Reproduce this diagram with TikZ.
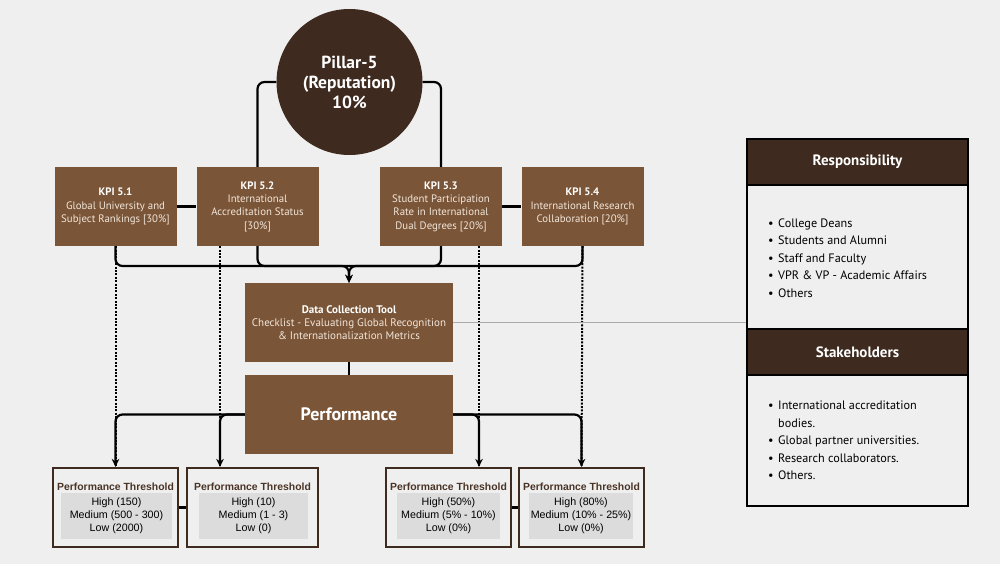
\documentclass[tikz,border=0pt]{standalone}
\usepackage{fontspec}
\setmainfont{PT Sans}
\newfontfamily\arialfont{Liberation Sans}
\usetikzlibrary{arrows.meta}
\definecolor{bgcol}{HTML}{EFEFEF}
\definecolor{darkbrown}{HTML}{3E2A1E}
\definecolor{kpibrown}{HTML}{7A5538}
\definecolor{cream}{HTML}{F2E6DA}
\definecolor{shade}{HTML}{DCDCDC}
\definecolor{linkgray}{HTML}{ABABAB}
\definecolor{thtext}{HTML}{4A3426}
\tikzset{
  pillar/.style  = { circle, fill=darkbrown, text=white, minimum size=146pt, align=center,
                     font=\fontsize{17.5}{20}\selectfont\bfseries },
  kpi/.style     = { fill=kpibrown, text=cream, minimum width=122pt, minimum height=79pt,
                     align=center, inner sep=0pt, font=\fontsize{10.8}{13.3}\selectfont },
  tool/.style    = { fill=kpibrown, text=cream, minimum width=208pt, minimum height=79pt,
                     align=center, inner sep=0pt, font=\fontsize{11}{13}\selectfont },
  thbox/.style   = { draw=darkbrown, line width=2.2pt, fill=bgcol, minimum width=125pt,
                     minimum height=79pt },
  thtitle/.style = { text=thtext, font=\arialfont\fontsize{10.4}{12}\selectfont\bfseries, inner sep=0pt },
  thvals/.style  = { fill=shade, minimum width=109pt, minimum height=46pt, align=center,
                     inner sep=0pt, font=\arialfont\fontsize{10.7}{13}\selectfont },
  head/.style    = { draw=black, line width=2pt, fill=darkbrown, text=white, minimum width=221pt,
                     minimum height=46pt, font=\fontsize{15}{17}\selectfont\bfseries },
  body/.style    = { draw=black, line width=2pt, fill=bgcol, minimum width=221pt },
  list/.style    = { anchor=west, align=left, inner sep=0pt, font=\fontsize{12.2}{17.5}\selectfont },
  line/.style    = { line width=2.2pt, black, rounded corners=7pt },
  arrow/.style   = { line, -{Stealth[length=8pt,width=7.5pt]} },
  dotline/.style = { line width=2pt, black, dash pattern={on 2pt off 1.4pt} },
  link/.style    = { line width=1.6pt, linkgray }
}
\newcommand{\bul}{\makebox[10pt][l]{\textbullet}}

\begin{document}
\begin{tikzpicture}[x=1pt,y=-1pt]
  \fill[bgcol] (0,0) rectangle (1000,564);
  \useasboundingbox (0,0) rectangle (1000,564);
  % Pillar and KPIs
  \node[pillar] (pillar) at (349.5,82) {Pillar-5\\(Reputation)\\10\%};
  \node[kpi] (k1) at (115.5,206.5) {{\bfseries\color{white}KPI 5.1}\\Global University and\\Subject Rankings [30\%]};
  \node[kpi] (k2) at (257.5,206.5) {{\bfseries\color{white}KPI 5.2}\\International\\Accreditation Status\\{}[30\%]};
  \node[kpi] (k3) at (441,206.5) {{\bfseries\color{white}KPI 5.3}\\Student Participation\\Rate in International\\Dual Degrees [20\%]};
  \node[kpi] (k4) at (582.5,206.5) {{\bfseries\color{white}KPI 5.4}\\International Research\\Collaboration [20\%]};
  % Tool and performance
  \node[tool] (data) at (349,322.5) {{\bfseries\color{white}Data Collection Tool}\\Checklist - Evaluating Global Recognition\\\& Internationalization Metrics};
  \node[tool, text=white, font=\fontsize{18}{20}\selectfont\bfseries] (perf) at (349,414.5) {Performance};
  % Thresholds
  \node[thbox] (th1) at (115.5,507.5) {};
  \node[thbox, minimum width=131pt] (th2) at (252.5,507.5) {};
  \node[thbox] (th3) at (448.5,507.5) {};
  \node[thbox] (th4) at (581.5,507.5) {};
  \node[thtitle] (h1) at (115.5,487) {Performance Threshold};
  \node[thtitle] (h2) at (252.5,487) {Performance Threshold};
  \node[thtitle] (h3) at (448.5,487) {Performance Threshold};
  \node[thtitle] (h4) at (581.5,487) {Performance Threshold};
  \node[thvals, minimum width=111pt] (v1) at (116.5,516) {High (150)\\Medium (500 - 300)\\Low (2000)};
  \node[thvals] (v2) at (253.5,516) {High (10)\\Medium (1 - 3)\\Low (0)};
  \node[thvals, minimum width=103pt] (v3) at (448.5,516) {High (50\%)\\Medium (5\% - 10\%)\\Low (0\%)};
  \node[thvals, minimum width=104pt] (v4) at (581,516) {High (80\%)\\Medium (10\% - 25\%)\\Low (0\%)};
  % Responsibility panel
  \node[body, minimum height=144pt] (respb) at (857.5,257) {};
  \node[body, minimum height=131pt] (stakeb) at (857.5,440.5) {};
  \node[head] (resph) at (857.5,162) {Responsibility};
  \node[head] (stakeh) at (857.5,352) {Stakeholders};
  \node[list] (rlist) at (768,258) {\bul College Deans\\\bul Students and Alumni\\\bul Staff and Faculty\\\bul VPR \& VP - Academic Affairs\\\bul Others};
  \node[list] (slist) at (768,440.5) {\bul International accreditation\\\hspace*{10pt}bodies.\\\bul Global partner universities.\\\bul Research collaborators.\\\bul Others.};
  % Connectors
  \coordinate (merge) at (349,266);
  \coordinate (t1) at (th1.north);
  \coordinate (t2) at ([xshift=-32.5pt]th2.north);
  \coordinate (t3) at ([xshift=30.5pt]th3.north);
  \coordinate (t4) at (th4.north);
  \draw[line] (pillar.west) -| (k2.north);
  \draw[line] (pillar.east) -| (k3.north);
  \draw[line] (k1.east) -- (k2.west);
  \draw[line] (k3.east) -- (k4.west);
  \draw[dotline] (k1.south) -- (t1);
  \draw[dotline] (k2.south -| t2) -- (t2);
  \draw[dotline] (k3.south -| t3) -- (t3);
  \draw[dotline] (k4.south) -- (t4);
  \draw[arrow] (k1.south) |- (merge) -- (data.north);
  \draw[line] (k2.south) |- (merge);
  \draw[line] (k3.south) |- (merge);
  \draw[arrow] (k4.south) |- (merge) -- (data.north);
  \draw[line] (data.south) -- (perf.north);
  \draw[link] (data.east) -- (data.east -| respb.west);
  \draw[arrow] (perf.west) -| (t1);
  \draw[arrow] (perf.west) -| (t2);
  \draw[arrow] (perf.east) -| (t3);
  \draw[arrow] (perf.east) -| (t4);
  \draw[line] (th1.east) -- (th2.west);
  \draw[line] (th3.east) -- (th4.west);
\end{tikzpicture}
\end{document}
